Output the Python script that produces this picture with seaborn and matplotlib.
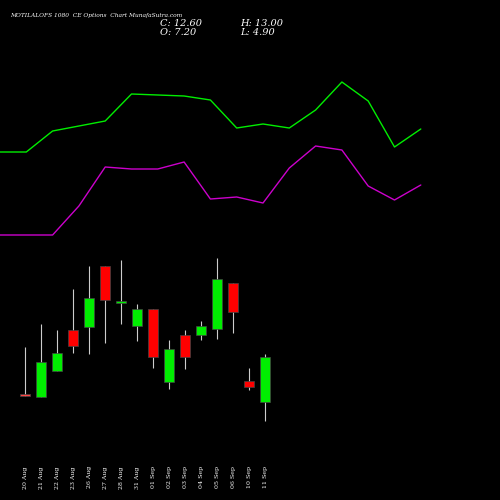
import matplotlib
matplotlib.use("Agg")
import matplotlib.pyplot as plt
import seaborn as sns
import numpy as np
import pandas as pd

dates = ["20 Aug","21 Aug","22 Aug","23 Aug","26 Aug","27 Aug","28 Aug","31 Aug",
         "01 Sep","02 Sep","03 Sep","04 Sep","05 Sep","06 Sep","10 Sep","11 Sep"]
opens  = [7.98, 7.80, 10.92, 15.84, 16.20, 23.52, 19.08, 16.32, 18.36, 9.60, 15.24, 15.24, 15.96, 21.48, 9.72, 7.20]
closes = [7.92, 12.00, 13.08, 13.92, 19.68, 19.44, 19.32, 18.36, 12.60, 13.56, 12.60, 16.32, 21.96, 18.00, 9.00, 12.60]
highs  = [13.80, 16.56, 15.84, 20.76, 23.52, 23.52, 24.24, 18.96, 18.36, 14.64, 15.84, 16.92, 24.48, 21.48, 11.28, 13.00]
lows   = [7.92, 7.80, 10.92, 13.08, 12.96, 14.28, 16.56, 14.52, 11.28, 8.76, 11.16, 14.64, 14.76, 15.48, 8.64, 4.90]
upper_band = [348, 348, 369, 374, 379, 406, 405, 404, 400, 372, 376, 372, 390, 418, 399, 353, 371]
lower_band = [265, 265, 265, 294, 333, 331, 331, 338, 301, 303, 297, 332, 354, 350, 314, 300, 315]

sns.set_style("dark")
plt.rcParams["font.family"] = ["DejaVu Serif"]
fig = plt.figure(figsize=(5, 5), dpi=100, facecolor="black")

# indicator lines
axl = fig.add_axes([0, 0, 1, 1], facecolor="black")
df = pd.DataFrame({"i": np.arange(len(upper_band)), "up": upper_band, "lo": lower_band})
sns.lineplot(data=df, x="i", y="up", color="#00ee00", lw=1, ax=axl)
sns.lineplot(data=df, x="i", y="lo", color="#cc00cc", lw=1, ax=axl)
axl.set_xlim(0, 500 / 26.3)
axl.set_ylim(0, 500)
axl.axis("off")

# candles
ax = fig.add_axes([0, 0, 1, 1], facecolor="none")
x = np.arange(len(dates))
o, c, h, l = map(np.array, (opens, closes, highs, lows))
cols = ["#00ee00" if cc >= oo else "#ff0000" for oo, cc in zip(o, c)]
cols[0] = "#ff4444"
ax.vlines(x, l, h, color="#cccccc", lw=0.8, zorder=1)
bottom = np.minimum(o, c)
height = np.maximum(np.abs(c - o), 0.25)
ax.bar(x, height, bottom=bottom, width=0.65, color=cols, edgecolor="#444444", lw=0.5, zorder=2)
ax.set_xlim(-25 / 16, 475 / 16)
ax.set_ylim(12.6 - 143 * 0.12, 12.6 + 357 * 0.12)
ax.axis("off")
for xi, d in zip(x, dates):
    ax.text(xi, -0.5, d, rotation=90, color="white", fontsize=4.5, ha="center", va="top")

fig.text(0.02, 0.967, "MOTILALOFS 1080  CE Options  Chart MunafaSutra.com", color="white",
         fontsize=4.2, style="italic")
fig.text(0.32, 0.948, "C: 12.60", color="white", fontsize=7, style="italic")
fig.text(0.32, 0.930, "O: 7.20", color="white", fontsize=7, style="italic")
fig.text(0.48, 0.948, "H: 13.00", color="white", fontsize=7, style="italic")
fig.text(0.48, 0.930, "L: 4.90", color="white", fontsize=7, style="italic")
fig.savefig("out.png", facecolor="black")
